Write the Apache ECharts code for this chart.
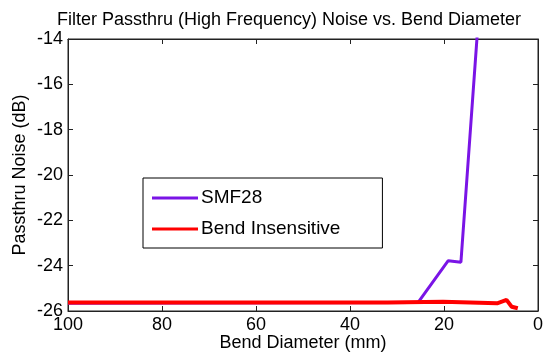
<!DOCTYPE html>
<html>
<head>
<meta charset="utf-8">
<script src="https://cdn.jsdelivr.net/npm/echarts@6/dist/echarts.min.js"></script>
<style>
  html, body { margin: 0; padding: 0; background: #fff; }
  #chart { width: 557px; height: 353px; }
</style>
</head>
<body>
<div id="chart"></div>
<script>
// Bend diameter (mm) and passthru noise (dB) for each fibre type
const smf28Diameter = [100, 25.5, 19.1, 16.4, 12.65];
const smf28Noise    = [-25.66, -25.62, -23.78, -23.85, -13.0];

const bendInsDiameter = [100, 32.0, 31.9, 20.2, 20.1, 8.7, 6.7, 5.6, 4.3];
const bendInsNoise    = [-25.63, -25.63, -25.59, -25.59, -25.66, -25.66, -25.51, -25.81, -25.88];

const seriesNames = ['SMF28', 'Bend Insensitive'];
const xTicks = [0, 100, 20];   // min, max, step
const yTicks = [-26, -14, 2];  // min, max, step

const pairs = (xs, ys) => xs.map((x, i) => [x, ys[i]]);

const FONT = '"Liberation Sans", Arial, sans-serif';
const axisColor = '#222';

const chart = echarts.init(document.getElementById('chart'), null, { renderer: 'canvas' });

const baseX = {
  type: 'value', min: xTicks[0], max: xTicks[1], interval: xTicks[2], inverse: true,
  axisLine: { show: true, onZero: false, lineStyle: { color: axisColor, width: 1 } },
  axisTick: { show: true, inside: true, length: 5, lineStyle: { color: axisColor } },
  splitLine: { show: false }
};
const baseY = {
  type: 'value', min: yTicks[0], max: yTicks[1], interval: yTicks[2],
  axisLine: { show: true, onZero: false, lineStyle: { color: axisColor, width: 1 } },
  axisTick: { show: true, inside: true, length: 5, lineStyle: { color: axisColor } },
  splitLine: { show: false }
};

chart.setOption({
  animation: false,
  backgroundColor: '#fff',
  title: {
    text: 'Filter Passthru (High Frequency) Noise vs. Bend Diameter',
    left: 284, textAlign: 'center', top: 6,
    textStyle: { fontFamily: FONT, fontSize: 18, fontWeight: 'normal', color: '#000' }
  },
  grid: {
    left: 68, right: 19, top: 39, bottom: 42,
    outerBoundsMode: 'none', containLabel: false,
    show: true, borderColor: axisColor, borderWidth: 1, backgroundColor: 'transparent'
  },
  legend: {
    orient: 'vertical',
    left: 143, top: 178,
    padding: [10, 42, 9, 9],
    borderColor: '#000', borderWidth: 1,
    backgroundColor: '#fff',
    itemWidth: 46, itemHeight: 3, itemGap: 11,
    icon: 'rect',
    textStyle: { fontFamily: FONT, fontSize: 19, color: '#000', lineHeight: 20, padding: [0, 0, 0, -2] },
    data: seriesNames
  },
  xAxis: [
    Object.assign({}, baseX, {
      name: 'Bend Diameter (mm)', nameLocation: 'middle', nameGap: 23, nameMoveOverlap: false,
      nameTextStyle: { fontFamily: FONT, fontSize: 18, color: '#000' },
      axisLabel: { fontFamily: FONT, fontSize: 18, color: '#000', margin: 5 }
    }),
    Object.assign({}, baseX, { position: 'top', axisLabel: { show: false } })
  ],
  yAxis: [
    Object.assign({}, baseY, {
      name: 'Passthru Noise (dB)', nameLocation: 'middle', nameGap: 39, nameMoveOverlap: false,
      nameTextStyle: { fontFamily: FONT, fontSize: 18, color: '#000' },
      axisLabel: { fontFamily: FONT, fontSize: 18, color: '#000', margin: 5 }
    }),
    Object.assign({}, baseY, { position: 'right', axisLabel: { show: false } })
  ],
  series: [
    {
      name: seriesNames[0], type: 'line', xAxisIndex: 0, yAxisIndex: 0,
      data: pairs(smf28Diameter, smf28Noise),
      showSymbol: false, clip: true,
      color: '#7a14e6',
      lineStyle: { width: 3, color: '#7a14e6' }
    },
    {
      name: seriesNames[1], type: 'line', xAxisIndex: 0, yAxisIndex: 0,
      data: pairs(bendInsDiameter, bendInsNoise),
      showSymbol: false, clip: true,
      color: '#ff0000',
      lineStyle: { width: 4, color: '#ff0000' }
    }
  ]
});
</script>
</body>
</html>
